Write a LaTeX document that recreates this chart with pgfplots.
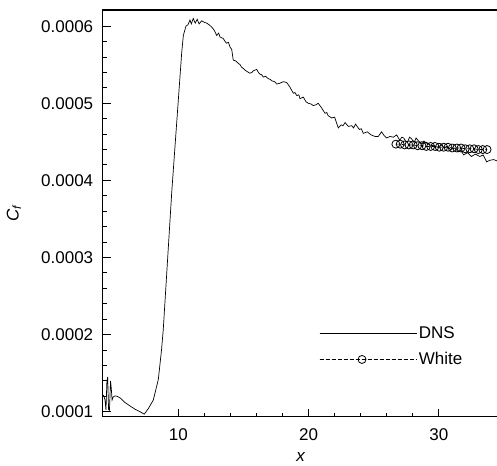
\documentclass[border=0pt]{standalone}
\usepackage{fontspec}
\setmainfont{Liberation Sans}
\usepackage{pgfplots}
\pgfplotsset{compat=1.18}
\usetikzlibrary{calc}

\newcommand{\lblfont}{\fontsize{17}{20}\selectfont}

\begin{document}
\begin{tikzpicture}[font=\lblfont]
\begin{axis}[
    scale only axis,
    width=396.1pt, height=406.7pt,
    xmin=4.2, xmax=34.6,
    ymin=0.935e-4, ymax=6.21e-4,
    xtick={10,20,30},
    ytick={0.0001,0.0002,0.0003,0.0004,0.0005,0.0006},
    minor x tick num=4, minor y tick num=4,
    xtick pos=bottom, ytick pos=left,
    tick align=inside,
    major tick length=8pt, minor tick length=4pt,
    every tick/.style={black, line width=1pt},
    axis line style={line width=1.5pt},
    scaled y ticks=false,
    tick label style={font=\lblfont},
    yticklabel style={xshift=-6pt, /pgf/number format/.cd, fixed, precision=4, fixed zerofill, assume math mode=true},
    xticklabel style={yshift=-8pt, /pgf/number format/assume math mode=true},
    xlabel={\textit{x}},
    ylabel={\textit{C}\textsubscript{\textit{f}}},
    label style={font=\lblfont},
    xlabel style={at={(axis description cs:0.5,-0.100)}, anchor=center},
    ylabel style={at={(axis description cs:-0.224,0.5)}, anchor=center},
    legend cell align=left,
    legend style={draw=none, fill=none, at={(axis description cs:0.546,0.228)}, anchor=north west,
        inner sep=0pt, row sep=9pt, font=\lblfont},
    legend image code/.code={\draw[mark repeat=2, mark phase=2, #1] plot coordinates {(0pt,0pt) (42.5pt,0pt) (85pt,0pt)};
        \path (0pt,0pt) -- (97pt,0pt);},
]
\addplot[black, line width=0.7pt] coordinates {
(4.2,1.22e-4) (4.3,1.20e-4) (4.38,1.15e-4) (4.45,1.02e-4) (4.52,1.38e-4) (4.58,1.45e-4)
(4.65,1.03e-4) (4.72,1.02e-4) (4.8,1.40e-4) (4.86,1.30e-4) (4.92,1.15e-4) (5.0,1.19e-4)
(5.14,1.205e-4) (5.3,1.20e-4) (5.53,1.18e-4) (5.9,1.12e-4) (6.29,1.075e-4) (6.7,1.03e-4)
(7.06,1.0e-4) (7.39,0.968e-4) (7.7,1.04e-4) (8.08,1.15e-4) (8.3,1.30e-4) (8.47,1.42e-4)
(8.72,1.81e-4) (8.85,2.07e-4) (9.5,3.85e-4) (10.26,5.65e-4) (10.39,5.88e-4) (10.59,6.0e-4)
(10.75,6.02e-4) (10.9,6.08e-4) (11.0,6.03e-4) (11.15,6.1e-4) (11.3,6.04e-4) (11.45,6.09e-4)
(11.6,6.03e-4) (11.8,6.07e-4) (12.0,6.05e-4) (12.18,6.04e-4) (12.35,6.02e-4) (12.56,5.99e-4)
(12.75,5.95e-4) (12.95,5.88e-4) (13.1,5.91e-4) (13.2,5.86e-4) (13.45,5.84e-4) (13.6,5.80e-4)
(13.7,5.78e-4) (13.85,5.79e-4) (13.97,5.73e-4) (14.1,5.70e-4) (14.22,5.56e-4) (14.4,5.55e-4)
(14.6,5.52e-4) (14.75,5.50e-4) (14.85,5.47e-4) (15.0,5.45e-4) (15.12,5.43e-4) (15.3,5.41e-4)
(15.5,5.39e-4) (15.65,5.40e-4) (15.75,5.42e-4) (16.02,5.44e-4) (16.15,5.40e-4) (16.25,5.38e-4)
(16.4,5.37e-4) (16.52,5.34e-4) (16.7,5.35e-4) (16.9,5.32e-4) (17.05,5.31e-4) (17.2,5.29e-4)
(17.4,5.28e-4) (17.55,5.25e-4) (17.8,5.26e-4) (18.06,5.28e-4) (18.32,5.27e-4) (18.57,5.21e-4)
(18.7,5.17e-4) (18.83,5.13e-4) (18.95,5.14e-4) (19.1,5.10e-4) (19.25,5.11e-4) (19.34,5.06e-4)
(19.6,5.08e-4) (19.8,5.02e-4) (19.98,5.0e-4) (20.2,4.99e-4) (20.36,4.97e-4) (20.55,4.98e-4)
(20.74,5.0e-4) (21.0,4.94e-4) (21.26,4.87e-4) (21.4,4.88e-4) (21.5,4.84e-4) (21.77,4.81e-4)
(22.0,4.82e-4) (22.28,4.68e-4) (22.5,4.72e-4) (22.65,4.71e-4) (22.8,4.75e-4) (23.05,4.70e-4)
(23.31,4.71e-4) (23.45,4.68e-4) (23.6,4.73e-4) (23.9,4.66e-4) (24.05,4.67e-4) (24.2,4.61e-4)
(24.5,4.63e-4) (24.8,4.59e-4) (25.1,4.57e-4) (25.35,4.57e-4) (25.6,4.63e-4) (25.8,4.58e-4)
(26.0,4.55e-4) (26.25,4.57e-4) (26.5,4.56e-4) (26.76,4.59e-4) (27.0,4.52e-4) (27.15,4.56e-4)
(27.3,4.55e-4) (27.45,4.51e-4) (27.6,4.50e-4) (27.75,4.56e-4) (27.9,4.54e-4) (28.1,4.49e-4)
(28.25,4.55e-4) (28.4,4.52e-4) (28.7,4.47e-4) (28.85,4.51e-4) (29.0,4.49e-4) (29.3,4.46e-4)
(29.6,4.45e-4) (29.9,4.43e-4) (30.2,4.46e-4) (30.4,4.42e-4) (30.6,4.44e-4) (30.9,4.40e-4)
(31.2,4.42e-4) (31.5,4.37e-4) (31.7,4.39e-4) (31.9,4.33e-4) (32.2,4.36e-4) (32.5,4.31e-4)
(32.8,4.34e-4) (33.15,4.31e-4) (33.4,4.33e-4) (33.67,4.24e-4) (33.9,4.26e-4) (34.2,4.27e-4)
(34.5,4.25e-4)
};
\addlegendentry{DNS}
\addplot[black, line width=0.7pt, dash pattern=on 4pt off 2pt, mark=o, mark size=4pt,
    mark options={solid, line width=0.8pt}] coordinates {
(26.70,4.47e-4) (27.03,4.47e-4) (27.37,4.46e-4) (27.70,4.46e-4) (28.03,4.46e-4) (28.37,4.45e-4)
(28.70,4.45e-4) (29.03,4.44e-4) (29.37,4.44e-4) (29.70,4.44e-4) (30.03,4.43e-4) (30.37,4.43e-4)
(30.70,4.43e-4) (31.03,4.42e-4) (31.37,4.42e-4) (31.70,4.42e-4) (32.03,4.41e-4) (32.37,4.41e-4)
(32.70,4.41e-4) (33.03,4.40e-4) (33.37,4.40e-4) (33.70,4.40e-4)
};
\addlegendentry{White}
\end{axis}
\pgfresetboundingbox
\useasboundingbox ($(current axis.south west)+(-102.7pt,-48.3pt)$) rectangle ($(current axis.south west)+(394.3pt,416.7pt)$);
\end{tikzpicture}
\end{document}
